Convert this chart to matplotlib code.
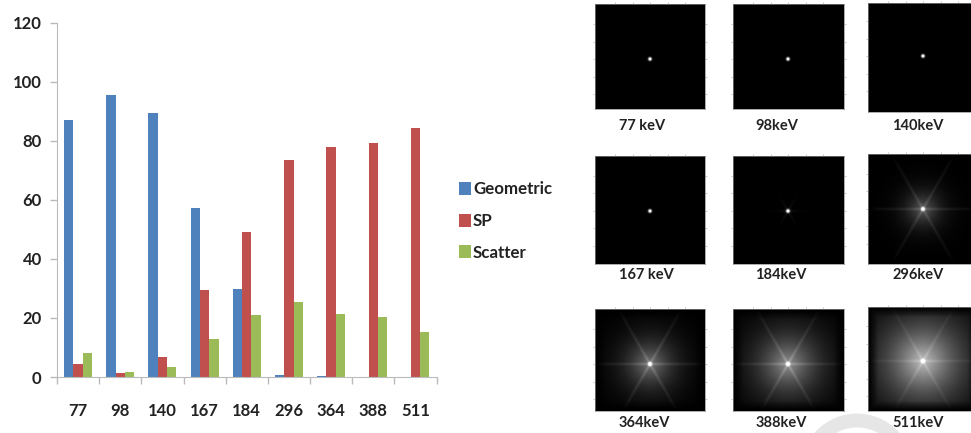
import numpy as np
import matplotlib
matplotlib.use('Agg')
import matplotlib.pyplot as plt
from matplotlib.patches import Circle

W, H = 971, 433

energies = ['77', '98', '140', '167', '184', '296', '364', '388', '511']
geometric = [86.9, 95.3, 89.3, 57.3, 29.8, 0.8, 0.3, 0, 0]
sp = [4.5, 1.5, 6.8, 29.5, 49, 73.5, 78, 79.3, 84.3]
scatter = [8, 1.8, 3.4, 13, 21, 25.4, 21.4, 20.3, 15.4]
yticks = [0, 20, 40, 60, 80, 100, 120]

panel_labels = ['77 keV', '98keV', '140keV', '167 keV', '184keV', '296keV',
                '364keV', '388keV', '511keV']
# how bright and how wide the halo and the six spikes look in each small image
halo = [0, 0, 0, 0, 0, 0.34, 0.44, 0.54, 0.72]
halo_r = [1, 1, 1, 1, 1, 16, 23, 29, 37]
spikes = [0, 0, 0, 0, 0.1, 0.12, 0.14, 0.14, 0.09]
spike_r = [1, 1, 1, 1, 8, 50, 50, 50, 60]
# left, top, right, bottom in pixels
boxes = [(595, 4, 705, 109), (733, 4, 844, 109), (868, 3, 978, 112),
         (595, 156, 705, 264), (733, 156, 844, 264), (868, 154, 978, 264),
         (595, 309, 705, 411), (733, 309, 844, 411), (868, 307, 978, 411)]
centers = [(650, 59), (788, 59), (923, 56),
           (650, 211), (788, 211), (923, 209),
           (650, 364), (788, 364), (923, 361)]
label_pos = [(642, 126), (777, 126), (918, 126),
             (646, 275), (781, 275), (918, 275),
             (644, 423), (781, 423), (918, 423)]

plt.rcParams['font.family'] = ['Lato', 'DejaVu Sans']


def px_axes(fig, l, t, r, b):
    return fig.add_axes([l/W, 1-b/H, (r-l)/W, (b-t)/H])


def psf_image(box, center, h, hr, s, sr):
    l, t, r_, b = box
    y, x = np.mgrid[t:b:(b-t)*2j, l:r_:(r_-l)*2j]
    x = x - center[0]
    y = y - center[1]
    r = np.hypot(x, y)
    th = np.arctan2(y, x)
    img = h*np.exp(-(r/hr)**1.3)
    for a in [0, 60, 120]:
        d = np.abs(np.sin(th-np.radians(a)))*r
        img = img + s*np.exp(-(d/1.3)**2)*np.exp(-r/sr)
    # the images go dark towards their edges
    edge = np.minimum(np.minimum(x-(l-center[0]), (r_-center[0])-x),
                      np.minimum(y-(t-center[1]), (b-center[1])-y))
    img = img*np.clip(edge/10, 0, 1)
    img = img + 1.8*np.exp(-(r/1.5)**2)
    return np.clip(img, 0, 1)


fig = plt.figure(figsize=(W/100, H/100), dpi=100)

ax = px_axes(fig, 57, 22.5, 436.5, 377)
xs = np.arange(len(energies))
bw = 0.222
ax.bar(xs-bw, geometric, bw, color='#4F81BD', label='Geometric')
ax.bar(xs, sp, bw, color='#C0504D', label='SP')
ax.bar(xs+bw, scatter, bw, color='#9BBB59', label='Scatter')
ax.set_xlim(-0.5, len(energies)-0.5)
ax.set_ylim(0, 120)
ax.set_yticks(yticks)
ax.set_xticks(xs)
ax.set_xticklabels(energies)
ax.set_xticks(np.arange(len(energies)+1)-0.5, minor=True)
ax.tick_params(axis='x', which='major', length=0, pad=19, labelsize=12, labelcolor='#222222')
ax.tick_params(axis='x', which='minor', length=5, color='#BBBBBB', width=1)
ax.tick_params(axis='y', length=5, color='#BBBBBB', width=1, pad=6, labelsize=12, labelcolor='#222222')
for t in ax.get_xticklabels() + ax.get_yticklabels():
    t.set_fontweight('bold')
for k in ['top', 'right']:
    ax.spines[k].set_visible(False)
for k in ['left', 'bottom']:
    ax.spines[k].set_color('#BBBBBB')

leg = ax.legend(loc='upper left', bbox_to_anchor=(456/W, 1-178/H), bbox_transform=fig.transFigure,
                frameon=False, handlelength=0.68, handleheight=0.8, handletextpad=0.12,
                labelspacing=0.92, borderpad=0.2, borderaxespad=0,
                prop={'weight': 'bold', 'size': 12.2})
for t in leg.get_texts():
    t.set_color('#222222')

for i, box in enumerate(boxes):
    a = px_axes(fig, *box)
    a.imshow(psf_image(box, centers[i], halo[i], halo_r[i], spikes[i], spike_r[i]),
             cmap='gray', vmin=0, vmax=1, aspect='auto', interpolation='bilinear',
             extent=(box[0], box[2], box[3], box[1]))
    a.set_xticks(np.arange(-2, 3)*17.5 + centers[i][0])
    a.set_yticks(np.arange(-2, 3)*17.5 + centers[i][1])
    a.tick_params(length=1.2, width=0.4, color='#999999', top=True, right=True,
                  bottom=False, left=True, labelbottom=False, labelleft=False, direction='out')
    for sp_ in a.spines.values():
        sp_.set_color('#888888')
        sp_.set_linewidth(0.5)
    x, y = label_pos[i]
    fig.text(x/W, 1-y/H, panel_labels[i], ha='center', va='center', fontsize=10.5,
             fontweight='bold', color='#222222')

# grey watermark ring cut by the bottom edge
bg = fig.add_axes([0, 0, 1, 1], zorder=-1)
bg.set_xlim(0, W)
bg.set_ylim(H, 0)
bg.axis('off')
bg.add_patch(Circle((857, 470), 49.5, fc='none', ec='#E6E6E6', lw=10))

fig.savefig('out.png', dpi=100)
